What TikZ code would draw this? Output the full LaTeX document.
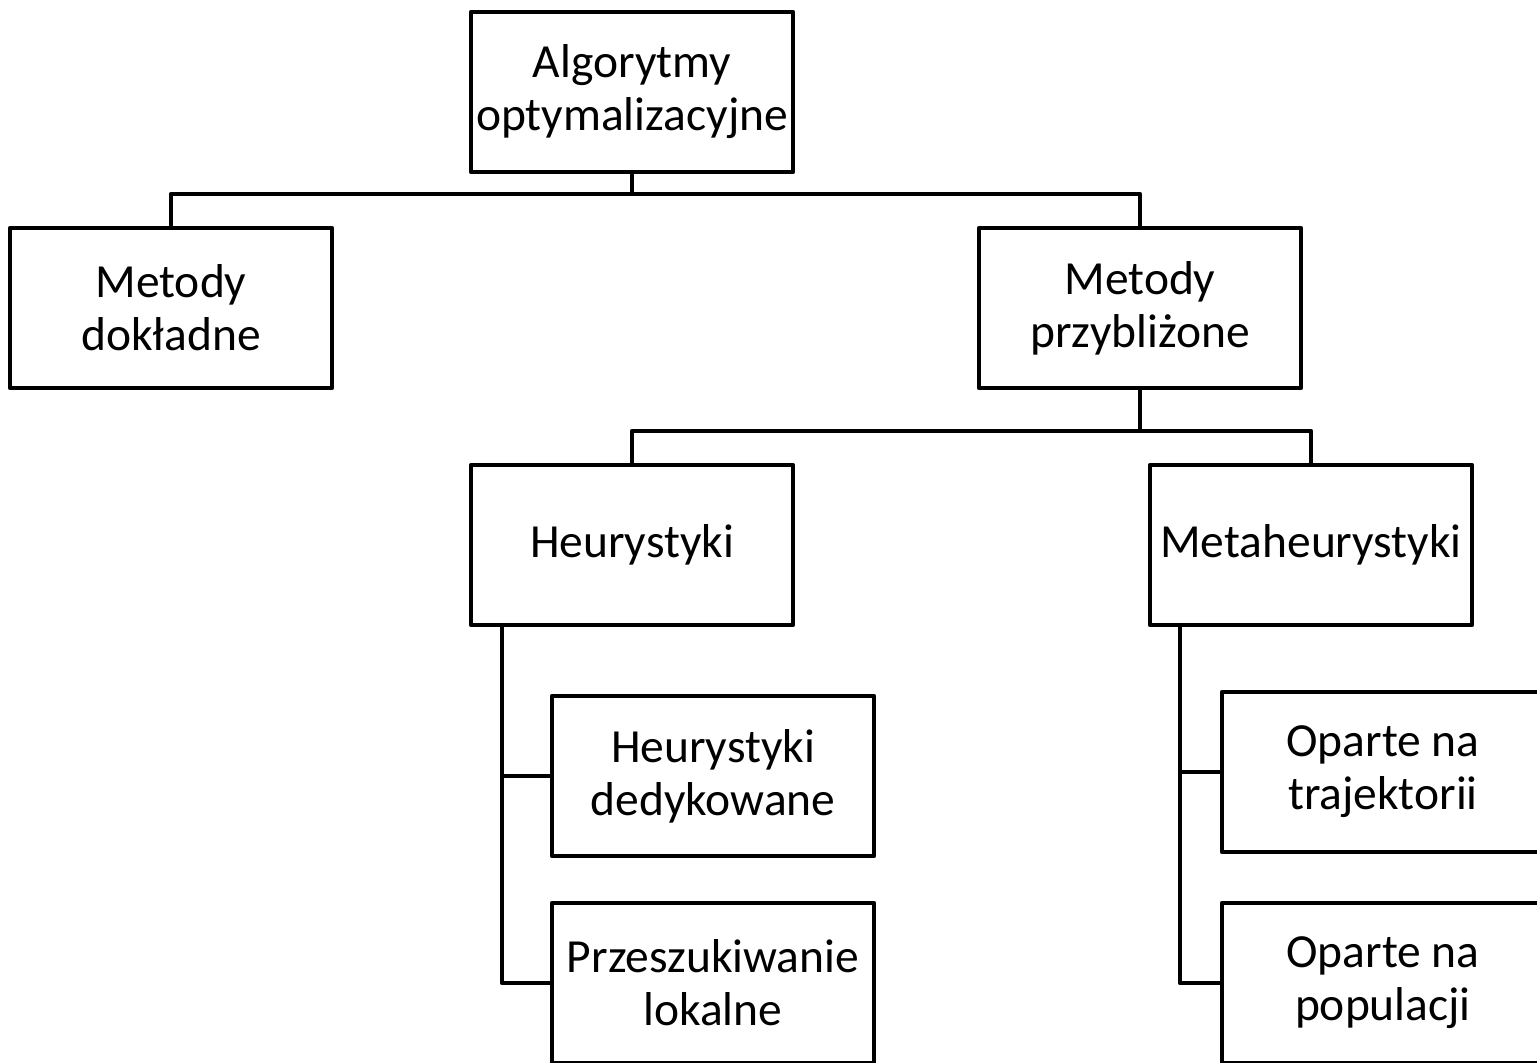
\documentclass[tikz,border=0pt]{standalone}
\usepackage{fontspec}
\setmainfont{Carlito}
\begin{document}
\begin{tikzpicture}[x=1pt,y=-1pt,
  catbox/.style={draw=black, line width=4.2pt, line join=round, fill=white,
    minimum width=322pt, minimum height=160pt, inner sep=0pt, align=center,
    font=\fontsize{47.5}{53}\selectfont},
  link/.style={draw=black, line width=4.2pt, line join=round}]
\useasboundingbox (0,0) rectangle (1537,1063);

% tree levels
\node[catbox] (root) at (632,92)   {Algorytmy\\optymalizacyjne};
\node[catbox] (exact) at (171,308) {Metody\\dokładne};
\node[catbox] (approx) at (1140,308) {Metody\\przybliżone};
\node[catbox] (heur) at (632,545)  {Heurystyki};
\node[catbox] (meta) at (1311,545) {Metaheurystyki};
\node[catbox] (dedic) at (713,776) {Heurystyki\\dedykowane};
\node[catbox] (local) at (713,983) {Przeszukiwanie\\lokalne};
\node[catbox] (traj) at (1383,772) {Oparte na\\trajektorii};
\node[catbox] (popul) at (1383,983) {Oparte na\\populacji};

% junction points
\coordinate (j1) at (632,194);
\coordinate (j2) at (1140,431);
\coordinate (h0) at ([xshift=33pt]heur.south west);
\coordinate (m0) at ([xshift=32pt]meta.south west);

% connectors
\draw[link] (root.south) -- (j1);
\draw[link] (exact.north) |- (j1) -| (approx.north);
\draw[link] (approx.south) -- (j2);
\draw[link] (heur.north) |- (j2) -| (meta.north);
\draw[link] (h0) |- (local.west);
\draw[link] (h0 |- dedic.west) -- (dedic.west);
\draw[link] (m0) |- (popul.west);
\draw[link] (m0 |- traj.west) -- (traj.west);
\end{tikzpicture}
\end{document}
